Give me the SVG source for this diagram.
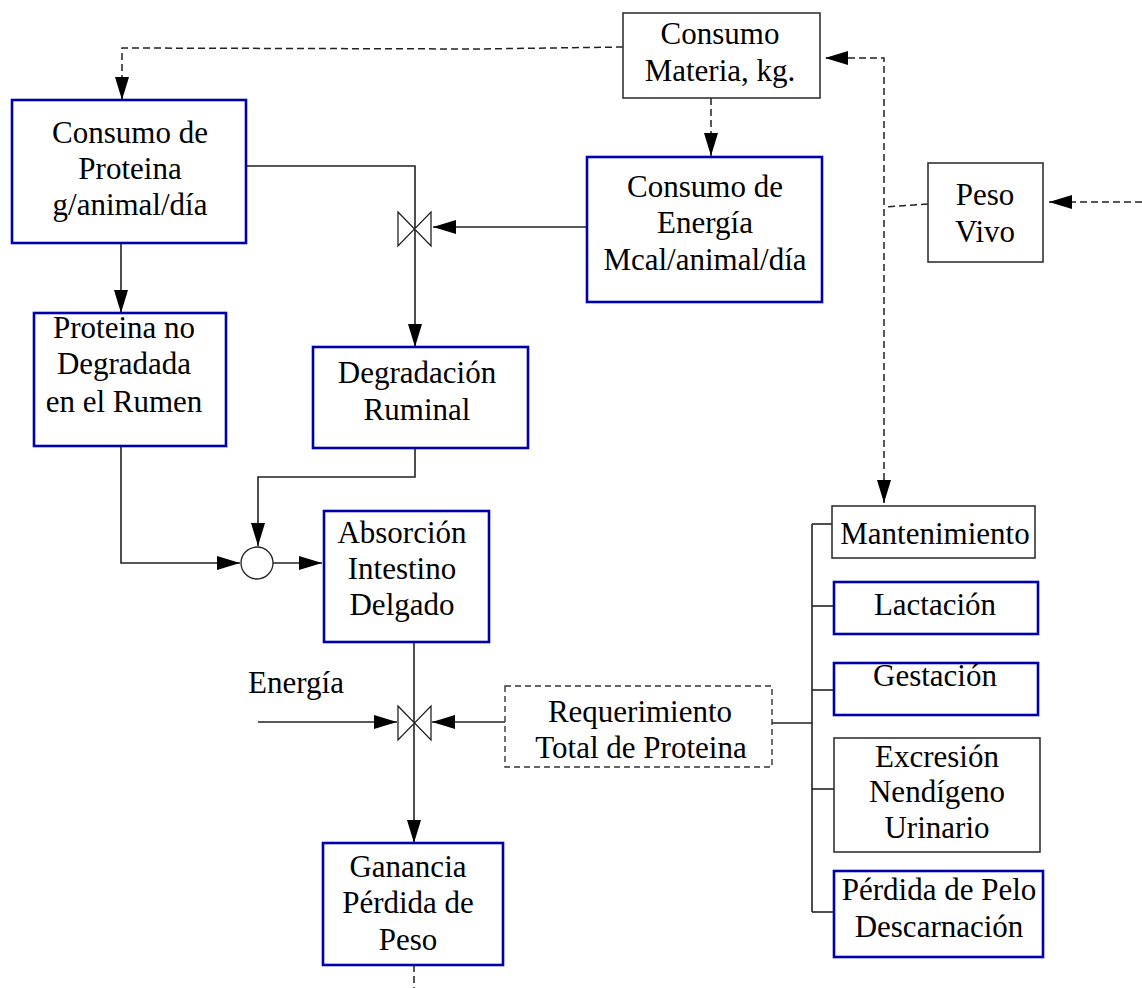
<svg xmlns="http://www.w3.org/2000/svg" width="1142" height="988" viewBox="0 0 1142 988">
  <style>
    .lbl { font-family: "Liberation Serif", "DejaVu Serif", serif; font-size: 31px; fill: #000; text-anchor: middle; }
    .blue { fill: #fff; stroke: #0000aa; stroke-width: 2.6; }
    .plain { fill: #fff; stroke: #333; stroke-width: 1.6; }
    .dashbox { fill: #fff; stroke: #333; stroke-width: 1.4; stroke-dasharray: 6 4; }
    .wire { fill: none; stroke: #222; stroke-width: 1.6; }
    .dash { fill: none; stroke: #222; stroke-width: 1.5; stroke-dasharray: 7 4; }
    .valve { fill: #fff; stroke: #222; stroke-width: 1.3; }
  </style>
  <defs>
    <marker id="arrow" markerUnits="userSpaceOnUse" markerWidth="24" markerHeight="14" refX="23" refY="7" orient="auto">
      <path d="M0,0 L23,7 L0,14 Z" fill="#000"/>
    </marker>
  </defs>
  <rect width="1142" height="988" fill="#fff"/>

  <!-- connectors -->
  <g id="connectors">
    <!-- dry matter intake feeds protein and energy intake -->
    <polyline class="dash" points="623,47 478,49 122,48 122,100" marker-end="url(#arrow)"/>
    <line class="dash" x1="711" y1="98" x2="711" y2="156" marker-end="url(#arrow)"/>
    <!-- live weight feedback -->
    <polyline class="dash" points="884,502 884,58 825,58" marker-end="url(#arrow)"/>
    <line class="dash" x1="884" y1="490" x2="884" y2="503" marker-end="url(#arrow)"/>
    <line class="dash" x1="928" y1="204" x2="884" y2="207"/>
    <line class="dash" x1="1142" y1="202" x2="1049" y2="202" marker-end="url(#arrow)"/>
    <!-- protein flow -->
    <line class="wire" x1="121" y1="243" x2="121" y2="313" marker-end="url(#arrow)"/>
    <polyline class="wire" points="246,166 415,166 415,347" marker-end="url(#arrow)"/>
    <line class="wire" x1="587" y1="227" x2="433" y2="227" marker-end="url(#arrow)"/>
    <polyline class="wire" points="415,448 415,477 258,477 258,546" marker-end="url(#arrow)"/>
    <polyline class="wire" points="121,446 121,563 240,563" marker-end="url(#arrow)"/>
    <line class="wire" x1="273" y1="563" x2="322" y2="563" marker-end="url(#arrow)"/>
    <line class="wire" x1="414" y1="642" x2="414" y2="843" marker-end="url(#arrow)"/>
    <line class="wire" x1="258" y1="722" x2="397" y2="722" marker-end="url(#arrow)"/>
    <line class="wire" x1="505" y1="722" x2="432" y2="722" marker-end="url(#arrow)"/>
    <line class="dash" x1="414" y1="965" x2="414" y2="988"/>
    <!-- requirement bracket -->
    <line class="wire" x1="772" y1="723" x2="812" y2="723"/>
    <line class="wire" x1="812" y1="524" x2="812" y2="912"/>
    <line class="wire" x1="812" y1="524" x2="832" y2="524"/>
    <line class="wire" x1="812" y1="606" x2="834" y2="606"/>
    <line class="wire" x1="812" y1="690" x2="834" y2="690"/>
    <line class="wire" x1="812" y1="789" x2="834" y2="789"/>
    <line class="wire" x1="812" y1="912" x2="834" y2="912"/>
    <!-- valves and junction -->
    <path class="valve" d="M398,212 L431,246 L431,212 L398,246 Z"/>
    <path class="valve" d="M398,706 L431,740 L431,706 L398,740 Z"/>
    <circle class="valve" cx="257" cy="563" r="16"/>
  </g>

  <g id="consumo-materia">
    <rect class="plain" x="623" y="13" width="197" height="85"/>
    <text class="lbl" x="720" y="44">Consumo</text>
    <text class="lbl" x="720" y="81">Materia, kg.</text>
  </g>

  <g id="consumo-proteina">
    <rect class="blue" x="12" y="100" width="234" height="143"/>
    <text class="lbl" x="130" y="143">Consumo de</text>
    <text class="lbl" x="130" y="179">Proteina</text>
    <text class="lbl" x="130" y="215">g/animal/día</text>
  </g>

  <g id="consumo-energia">
    <rect class="blue" x="587" y="157" width="235" height="145"/>
    <text class="lbl" x="705" y="197">Consumo de</text>
    <text class="lbl" x="705" y="233">Energía</text>
    <text class="lbl" x="705" y="270">Mcal/animal/día</text>
  </g>

  <g id="peso-vivo">
    <rect class="plain" x="928" y="163" width="115" height="99"/>
    <text class="lbl" x="985" y="205">Peso</text>
    <text class="lbl" x="985" y="242">Vivo</text>
  </g>

  <g id="proteina-no-degradada">
    <rect class="blue" x="34" y="313" width="192" height="133"/>
    <text class="lbl" x="124" y="338">Proteina no</text>
    <text class="lbl" x="124" y="374">Degradada</text>
    <text class="lbl" x="124" y="412">en el Rumen</text>
  </g>

  <g id="degradacion-ruminal">
    <rect class="blue" x="313" y="347" width="215" height="101"/>
    <text class="lbl" x="417" y="383">Degradación</text>
    <text class="lbl" x="417" y="420">Ruminal</text>
  </g>

  <g id="absorcion">
    <rect class="blue" x="324" y="511" width="165" height="131"/>
    <text class="lbl" x="402" y="543">Absorción</text>
    <text class="lbl" x="402" y="579">Intestino</text>
    <text class="lbl" x="402" y="615">Delgado</text>
  </g>

  <g id="energia">
    <text class="lbl" x="296" y="693">Energía</text>
  </g>

  <g id="requerimiento">
    <path class="dashbox" d="M505,686 L772,686 L772,767 L505,767 Z"/>
    <text class="lbl" x="640" y="722">Requerimiento</text>
    <text class="lbl" x="641" y="758">Total de Proteina</text>
  </g>

  <g id="ganancia">
    <rect class="blue" x="323" y="843" width="180" height="122"/>
    <text class="lbl" x="408" y="877">Ganancia</text>
    <text class="lbl" x="408" y="913">Pérdida de</text>
    <text class="lbl" x="408" y="950">Peso</text>
  </g>

  <g id="mantenimiento">
    <rect class="plain" x="832" y="506" width="203" height="52"/>
    <text class="lbl" x="935" y="544">Mantenimiento</text>
  </g>

  <g id="lactacion">
    <rect class="blue" x="834" y="582" width="204" height="52"/>
    <text class="lbl" x="935" y="615">Lactación</text>
  </g>

  <g id="gestacion">
    <rect class="blue" x="834" y="663" width="204" height="52"/>
    <text class="lbl" x="935" y="686">Gestación</text>
  </g>

  <g id="excresion">
    <rect class="plain" x="834" y="738" width="206" height="114"/>
    <text class="lbl" x="937" y="767">Excresión</text>
    <text class="lbl" x="937" y="802">Nendígeno</text>
    <text class="lbl" x="937" y="838">Urinario</text>
  </g>

  <g id="perdida-pelo">
    <rect class="blue" x="834" y="871" width="209" height="86"/>
    <text class="lbl" x="939" y="900">Pérdida de Pelo</text>
    <text class="lbl" x="939" y="937">Descarnación</text>
  </g>
</svg>
